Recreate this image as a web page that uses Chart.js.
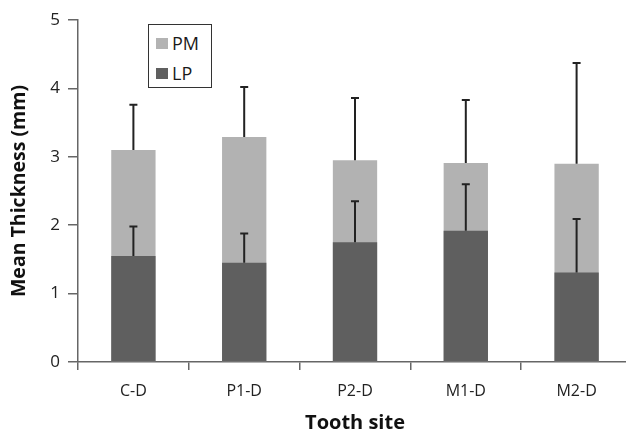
<!DOCTYPE html>
<html>
<head>
<meta charset="utf-8">
<script src="https://cdn.jsdelivr.net/npm/chart.js@4.4.1/dist/chart.umd.min.js"></script>
<style>
  html, body { margin: 0; padding: 0; background: #fff; overflow: hidden; }
  #wrap { position: relative; width: 626px; height: 436px; overflow: hidden; }
  #holder { position: absolute; left: 0; top: 0; width: 640px; height: 436px; }
  #legend { position: absolute; left: 148px; top: 24px; width: 62px; height: 62px;
            border: 1.5px solid #333; background: #fff; font-family: "Open Sans", sans-serif; }
  .sw { position: absolute; left: 7px; width: 12px; height: 11px; }
  .lt { position: absolute; left: 23px; font-size: 18px; line-height: 20px; color: #1a1a1a; }
</style>
</head>
<body>
<div id="wrap">
  <div id="holder"><canvas id="c" width="640" height="436"></canvas></div>
  <div id="legend">
    <div class="sw" style="top:13px;background:#b3b3b3"></div>
    <div class="lt" style="top:8px" id="lg0"></div>
    <div class="sw" style="top:43px;background:#5f5f5f"></div>
    <div class="lt" style="top:38px" id="lg1"></div>
  </div>
</div>
<script>
const categories = ["C-D", "P1-D", "P2-D", "M1-D", "M2-D"];
const seriesNames = ["PM", "LP"];
const pmMean = [3.10, 3.29, 2.95, 2.91, 2.90];
const pmSD   = [0.66, 0.73, 0.91, 0.92, 1.47];
const lpMean = [1.55, 1.45, 1.75, 1.92, 1.31];
const lpSD   = [0.43, 0.43, 0.60, 0.68, 0.78];
const yTicks = [0, 1, 2, 3, 4, 5];

document.getElementById('lg0').textContent = seriesNames[0];
document.getElementById('lg1').textContent = seriesNames[1];

const errorBars = {
  id: 'errorBars',
  afterDatasetsDraw(chart) {
    const ctx = chart.ctx;
    const ys = chart.scales.y;
    const sds = [pmSD, lpSD];
    ctx.save();
    ctx.strokeStyle = '#222';
    ctx.lineWidth = 2;
    chart.data.datasets.forEach((ds, i) => {
      const meta = chart.getDatasetMeta(i);
      meta.data.forEach((bar, j) => {
        const v = ds.data[j];
        const y0 = ys.getPixelForValue(v);
        const y1 = ys.getPixelForValue(v + sds[i][j]);
        ctx.beginPath();
        ctx.moveTo(bar.x, y0);
        ctx.lineTo(bar.x, y1);
        ctx.moveTo(bar.x - 4, y1);
        ctx.lineTo(bar.x + 4, y1);
        ctx.stroke();
      });
    });
    ctx.restore();
  }
};

new Chart(document.getElementById('c'), {
  type: 'bar',
  data: {
    labels: categories,
    datasets: [
      { label: seriesNames[0], data: pmMean, backgroundColor: '#b2b2b2', order: 1,
        grouped: false, barPercentage: 0.4, categoryPercentage: 1 },
      { label: seriesNames[1], data: lpMean, backgroundColor: '#5f5f5f', order: 0,
        grouped: false, barPercentage: 0.4, categoryPercentage: 1 }
    ]
  },
  options: {
    responsive: false,
    animation: false,
    layout: { padding: { left: 0, right: 8, top: 20, bottom: 0 } },
    plugins: { legend: { display: false }, tooltip: { enabled: false } },
    scales: {
      x: {
        offset: true,
        grid: { offset: true, drawOnChartArea: false, drawTicks: true, tickLength: 8,
                color: '#666', lineWidth: 1.5 },
        border: { color: '#666', width: 1.5 },
        ticks: { padding: 12, color: '#222', font: { family: 'Open Sans', size: 16 } },
        title: { display: true, text: 'Tooth site', color: '#111',
                 font: { family: 'Open Sans', size: 20, weight: 'bold' },
                 padding: { top: 0, bottom: 1 } },
        afterFit(s) { s.height = 74; }
      },
      y: {
        min: 0, max: 5,
        afterBuildTicks(s) { s.ticks = yTicks.map(v => ({ value: v })); },
        grid: { drawOnChartArea: false, drawTicks: true, tickLength: 10,
                color: '#666', lineWidth: 1.5 },
        border: { color: '#666', width: 1.5 },
        ticks: { padding: 8, color: '#222', font: { family: 'Open Sans', size: 17 } },
        title: { display: true, text: 'Mean Thickness (mm)', color: '#111',
                 font: { family: 'Open Sans', size: 19.5, weight: 'bold' },
                 padding: { top: 8, bottom: 0 } },
        afterFit(s) { s.width = 78; }
      }
    }
  },
  plugins: [errorBars]
});
</script>
</body>
</html>
